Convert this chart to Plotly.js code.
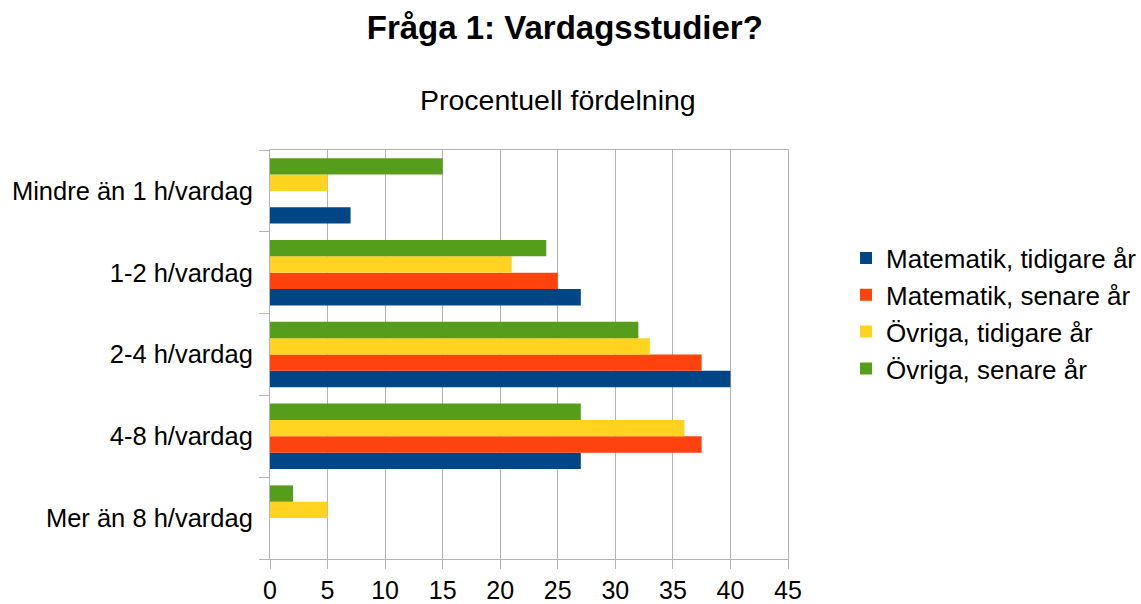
<!DOCTYPE html>
<html>
<head>
<meta charset="utf-8">
<script src="https://cdn.plot.ly/plotly-3.0.1.min.js"></script>
<style>html,body{margin:0;padding:0;background:#fff;}#chart{width:1141px;height:604px;}</style>
</head>
<body>
<div id="chart"></div>
<script>
const categories = ["Mindre än 1 h/vardag", "1-2 h/vardag", "2-4 h/vardag", "4-8 h/vardag", "Mer än 8 h/vardag"];
const seriesNames = ["Matematik, tidigare år", "Matematik, senare år", "Övriga, tidigare år", "Övriga, senare år"];
const matTidigare = [7, 27, 40, 27, 0];
const matSenare = [0, 25, 37.5, 37.5, 0];
const ovrTidigare = [5, 21, 33, 36, 5];
const ovrSenare = [15, 24, 32, 27, 2];
const xTicks = [0, 5, 10, 15, 20, 25, 30, 35, 40, 45];
const colors = ["#004586", "#ff420e", "#ffd320", "#579d1c"];

const seriesValues = [matTidigare, matSenare, ovrTidigare, ovrSenare];
const FONT = "Liberation Sans, Arial, sans-serif";

const traces = seriesValues.map((vals, i) => ({
  type: "bar",
  orientation: "h",
  name: seriesNames[i],
  y: categories,
  x: vals,
  marker: {color: colors[i], line: {width: 0}},
  hoverinfo: "x+name"
}));

const layout = {
  width: 1141,
  height: 604,
  margin: {l: 270, r: 353, t: 150, b: 45, pad: 0, autoexpand: false},
  paper_bgcolor: "#ffffff",
  plot_bgcolor: "#ffffff",
  font: {family: FONT, color: "#000"},
  barmode: "group",
  bargap: 0.2,
  bargroupgap: 0,
  title: {
    text: "<b>Fråga 1: Vardagsstudier?</b>",
    font: {family: FONT, size: 33, color: "#000"},
    x: 0.495, xanchor: "center",
    y: 0.955, yanchor: "middle", yref: "container"
  },
  annotations: [{
    text: "Procentuell fördelning",
    xref: "paper", yref: "paper",
    x: 0.556, y: 1.122, xanchor: "center", yanchor: "middle",
    showarrow: false,
    font: {family: FONT, size: 28.5, color: "#000"}
  }],
  xaxis: {
    range: [0, 45],
    tickvals: xTicks,
    ticktext: xTicks.map(String),
    showgrid: true,
    gridcolor: "#b3b3b3",
    gridwidth: 1,
    zeroline: false,
    showline: true,
    linecolor: "#b3b3b3",
    linewidth: 1,
    mirror: true,
    ticks: "outside",
    ticklen: 9,
    tickcolor: "#b3b3b3",
    tickfont: {family: FONT, size: 25, color: "#000"},
    fixedrange: true
  },
  yaxis: {
    type: "category",
    categoryorder: "array",
    categoryarray: categories.slice().reverse(),
    showgrid: false,
    zeroline: false,
    showline: true,
    linecolor: "#b3b3b3",
    linewidth: 1,
    mirror: true,
    ticks: "outside",
    tickson: "boundaries",
    ticklen: 10,
    tickcolor: "#b3b3b3",
    ticklabelstandoff: 11,
    tickfont: {family: FONT, size: 25.5, color: "#000"},
    fixedrange: true
  },
  legend: {
    x: 1.112, xanchor: "left",
    y: 0.6, yanchor: "middle",
    traceorder: "normal",
    font: {family: FONT, size: 26, color: "#000"},
    bgcolor: "rgba(0,0,0,0)",
    itemclick: false
  },
  showlegend: true
};

Plotly.newPlot("chart", traces, layout, {displayModeBar: false, staticPlot: true});
</script>
</body>
</html>
